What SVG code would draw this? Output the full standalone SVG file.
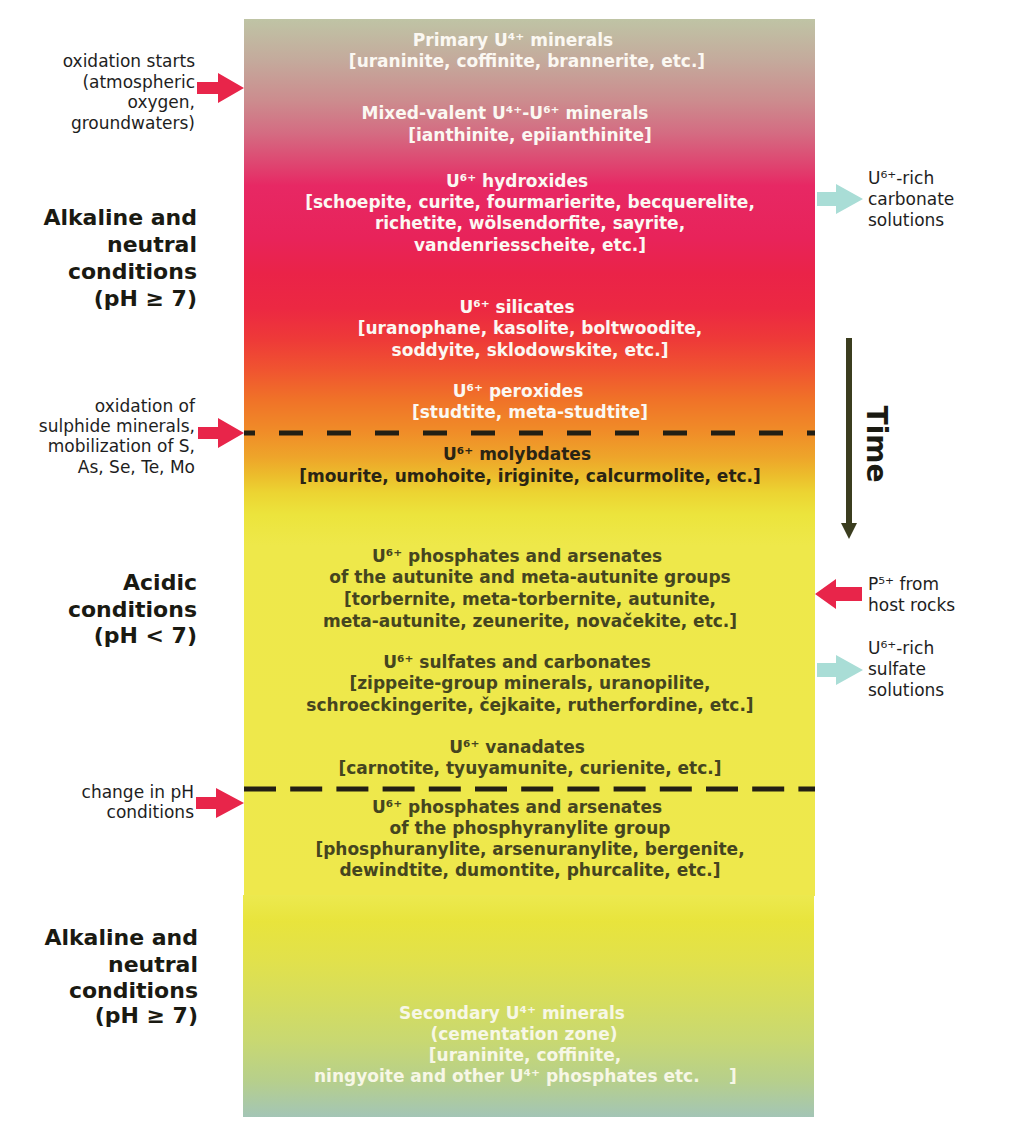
<svg xmlns="http://www.w3.org/2000/svg" width="1028" height="1123" viewBox="0 0 1028 1123">
<defs>
<linearGradient id="gTop" gradientUnits="userSpaceOnUse" x1="0" y1="19" x2="0" y2="896">
<stop offset="0" stop-color="#bfc4a5"/>
<stop offset="0.047" stop-color="#c4aa9c"/>
<stop offset="0.093" stop-color="#cc8c8e"/>
<stop offset="0.13" stop-color="#d46c82"/>
<stop offset="0.17" stop-color="#e0406e"/>
<stop offset="0.19" stop-color="#e72864"/>
<stop offset="0.25" stop-color="#e8235a"/>
<stop offset="0.29" stop-color="#ea2348"/>
<stop offset="0.33" stop-color="#ec2842"/>
<stop offset="0.366" stop-color="#ee3a38"/>
<stop offset="0.4" stop-color="#f05430"/>
<stop offset="0.434" stop-color="#f07228"/>
<stop offset="0.47" stop-color="#f08c28"/>
<stop offset="0.5" stop-color="#eea52a"/>
<stop offset="0.52" stop-color="#ecbc2c"/>
<stop offset="0.54" stop-color="#ecd432"/>
<stop offset="0.565" stop-color="#ece43c"/>
<stop offset="0.6" stop-color="#eee84a"/>
<stop offset="1" stop-color="#eee84c"/>
</linearGradient>
<linearGradient id="gBot" gradientUnits="userSpaceOnUse" x1="0" y1="895" x2="0" y2="1117">
<stop offset="0" stop-color="#ece94f"/>
<stop offset="0.12" stop-color="#e8e43c"/>
<stop offset="0.3" stop-color="#e1e14c"/>
<stop offset="0.48" stop-color="#d5dd5e"/>
<stop offset="0.66" stop-color="#c8d872"/>
<stop offset="0.84" stop-color="#b6cf8c"/>
<stop offset="1" stop-color="#a3c5b6"/>
</linearGradient>
<style>
.c{font-family:"DejaVu Sans",Verdana,sans-serif;font-weight:bold;font-size:17px;text-anchor:middle}
.w{fill:#fbf8f2}
.k{fill:#2a2414}
.o{fill:#45451f}
.s{fill:#f7f7e6}
.lab{font-family:"DejaVu Sans",Verdana,sans-serif;font-size:17px;fill:#1e1e1e}
.big{font-family:"DejaVu Sans",Verdana,sans-serif;font-weight:bold;font-size:22px;fill:#1a1a12;text-anchor:end}
.r{text-anchor:end}
.red{fill:#e8254a}
.cy{fill:#a9ddd6}
.dash{stroke:#231f14;stroke-width:5;fill:none}
</style>
</defs>
<rect x="0" y="0" width="1028" height="1123" fill="#ffffff"/>
<g id="column">
<rect x="244" y="19" width="571" height="877" fill="url(#gTop)"/>
<rect x="243" y="895" width="571" height="222" fill="url(#gBot)"/>
</g>
<g id="boundaries">
<line class="dash" x1="244" y1="433" x2="815" y2="433" stroke-dasharray="24 24" stroke-dashoffset="13"/>
<line class="dash" x1="244" y1="789" x2="815" y2="789" stroke-dasharray="32 14.2"/>
</g>
<g id="primary" class="c w">
<text x="513" y="46">Primary U⁴⁺ minerals</text>
<text x="527" y="67">[uraninite, coffinite, brannerite, etc.]</text>
</g>
<g id="mixed" class="c w">
<text x="505" y="119">Mixed-valent U⁴⁺-U⁶⁺ minerals</text>
<text x="530" y="141">[ianthinite, epiianthinite]</text>
</g>
<g id="hydroxides" class="c w">
<text x="517" y="187">U⁶⁺ hydroxides</text>
<text x="530" y="208">[schoepite, curite, fourmarierite, becquerelite,</text>
<text x="530" y="229">richetite, wölsendorfite, sayrite,</text>
<text x="530" y="251">vandenriesscheite, etc.]</text>
</g>
<g id="silicates" class="c w">
<text x="517" y="313">U⁶⁺ silicates</text>
<text x="530" y="334">[uranophane, kasolite, boltwoodite,</text>
<text x="530" y="356">soddyite, sklodowskite, etc.]</text>
</g>
<g id="peroxides" class="c w">
<text x="518" y="397">U⁶⁺ peroxides</text>
<text x="530" y="418">[studtite, meta-studtite]</text>
</g>
<g id="molybdates" class="c k">
<text x="517" y="460">U⁶⁺ molybdates</text>
<text x="530" y="482">[mourite, umohoite, iriginite, calcurmolite, etc.]</text>
</g>
<g id="autunite" class="c o">
<text x="517" y="562">U⁶⁺ phosphates and arsenates</text>
<text x="530" y="583">of the autunite and meta-autunite groups</text>
<text x="530" y="605">[torbernite, meta-torbernite, autunite,</text>
<text x="530" y="627">meta-autunite, zeunerite, novačekite, etc.]</text>
</g>
<g id="sulfates" class="c o">
<text x="517" y="668">U⁶⁺ sulfates and carbonates</text>
<text x="530" y="689">[zippeite-group minerals, uranopilite,</text>
<text x="530" y="711">schroeckingerite, čejkaite, rutherfordine, etc.]</text>
</g>
<g id="vanadates" class="c o">
<text x="517" y="753">U⁶⁺ vanadates</text>
<text x="530" y="774">[carnotite, tyuyamunite, curienite, etc.]</text>
</g>
<g id="phosphuranylite" class="c o">
<text x="517" y="813">U⁶⁺ phosphates and arsenates</text>
<text x="530" y="834">of the phosphyranylite group</text>
<text x="530" y="855">[phosphuranylite, arsenuranylite, bergenite,</text>
<text x="530" y="876">dewindtite, dumontite, phurcalite, etc.]</text>
</g>
<g id="secondary" class="c s">
<text x="512" y="1019">Secondary U⁴⁺ minerals</text>
<text x="524" y="1040">(cementation zone)</text>
<text x="525" y="1061">[uraninite, coffinite,</text>
<text x="314" y="1082" style="text-anchor:start">ningyoite and other U⁴⁺ phosphates etc.<tspan x="729">]</tspan></text>
</g>
<g id="label-oxidation" class="lab r">
<text x="195" y="67">oxidation starts</text>
<text x="195" y="88">(atmospheric</text>
<text x="195" y="108">oxygen,</text>
<text x="195" y="129">groundwaters)</text>
</g>
<g id="label-alkaline1" class="big">
<text x="197" y="225">Alkaline and</text>
<text x="197" y="252">neutral</text>
<text x="197" y="279">conditions</text>
<text x="197" y="306">(pH ≥ 7)</text>
</g>
<g id="label-sulphide" class="lab r">
<text x="195" y="412">oxidation of</text>
<text x="195" y="432">sulphide minerals,</text>
<text x="195" y="452">mobilization of S,</text>
<text x="195" y="473">As, Se, Te, Mo</text>
</g>
<g id="label-acidic" class="big">
<text x="197" y="590">Acidic</text>
<text x="197" y="617">conditions</text>
<text x="197" y="643">(pH &lt; 7)</text>
</g>
<g id="label-ph" class="lab r">
<text x="194" y="798">change in pH</text>
<text x="194" y="818">conditions</text>
</g>
<g id="label-alkaline2" class="big">
<text x="198" y="945">Alkaline and</text>
<text x="198" y="972">neutral</text>
<text x="198" y="998">conditions</text>
<text x="198" y="1023">(pH ≥ 7)</text>
</g>
<g id="label-carbonate" class="lab">
<text x="868" y="184">U⁶⁺-rich</text>
<text x="868" y="205">carbonate</text>
<text x="868" y="226">solutions</text>
</g>
<g id="label-p5" class="lab">
<text x="868" y="590">P⁵⁺ from</text>
<text x="868" y="611">host rocks</text>
</g>
<g id="label-sulfate" class="lab">
<text x="868" y="654">U⁶⁺-rich</text>
<text x="868" y="675">sulfate</text>
<text x="868" y="696">solutions</text>
</g>
<g id="time">
<text transform="translate(867,444) rotate(90)" style="font-family:'DejaVu Sans',Verdana,sans-serif;font-weight:bold;font-size:28px;fill:#1a1a12;text-anchor:middle">Time</text>
</g>
<g id="connectors">
<polygon class="red" points="197,82 218,82 218,73 244,88 218,103 218,94 197,94"/>
<polygon class="red" points="198,427 218,427 218,418 244,433 218,448 218,439 198,439"/>
<polygon class="red" points="196,797 216,797 216,788 244,803 216,818 216,809 196,809"/>
<polygon class="cy" points="817,192 836,192 836,184 863,199 836,214 836,206 817,206"/>
<polygon class="red" points="862,587 836,587 836,579 815,594 836,609 836,601 862,601"/>
<polygon class="cy" points="817,663 836,663 836,655 863,670 836,685 836,677 817,677"/>
<line x1="849" y1="338" x2="849" y2="526" stroke="#3b3d1f" stroke-width="6"/>
<polygon points="841,523 857,523 849,539" fill="#3b3d1f"/>
</g>
</svg>
